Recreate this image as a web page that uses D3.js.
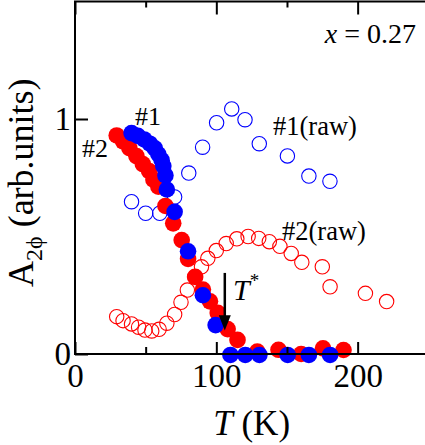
<!DOCTYPE html>
<html><head><meta charset="utf-8">
<script src="https://cdn.jsdelivr.net/npm/d3@7"></script>
<style>
html,body{margin:0;padding:0;background:#fff;overflow:hidden;}
svg{display:block;font-family:"Liberation Serif","Times New Roman","DejaVu Serif",serif;}
</style></head>
<body>
<svg id="c" width="425" height="445"></svg>
<script>
// #1 (blue, filled)
const T1 = [40, 44.5, 49, 53, 56.5, 59, 61.3, 62.5, 64, 65, 70.5, 80, 90.5, 99.5, 110, 120.5, 130.5, 150.5, 165.5, 180.5];
const A1 = [0.94, 0.928, 0.913, 0.895, 0.875, 0.85, 0.825, 0.8, 0.76, 0.7, 0.605, 0.437, 0.25, 0.123, -0.004, -0.004, -0.004, -0.004, -0.004, -0.004];
// #2 (red, filled)
const T2 = [29.5, 34, 38.5, 43.5, 48, 52.5, 55.5, 59, 64, 69.5, 75.5, 80, 85, 90.5, 95.5, 101, 108, 115, 129, 144, 160, 175.5, 190];
const A2 = [0.93, 0.905, 0.876, 0.842, 0.808, 0.778, 0.742, 0.712, 0.63, 0.556, 0.485, 0.405, 0.328, 0.274, 0.224, 0.175, 0.106, 0.06, 0.01, 0.018, 0.0, 0.024, 0.017];
// #1(raw) (blue, open)
const T1raw = [40, 50, 60, 70.5, 80.5, 90.3, 100.2, 110.9, 120.3, 130.4, 150.3, 165.5, 180.4];
const A1raw = [0.648, 0.599, 0.599, 0.668, 0.77, 0.88, 0.984, 1.043, 0.997, 0.895, 0.843, 0.757, 0.735];
// #2(raw) (red, open)
const T2raw = [29.5, 34, 40, 45, 49.5, 54.3, 59.5, 65, 70.5, 75, 79.5, 85, 89.5, 94, 100, 107, 114.5, 122.5, 130, 137.5, 145, 153, 160.5, 175, 180.5, 205.5, 220.5];
const A2raw = [0.159, 0.142, 0.128, 0.114, 0.102, 0.098, 0.105, 0.131, 0.168, 0.22, 0.272, 0.329, 0.371, 0.407, 0.44, 0.47, 0.49, 0.5, 0.492, 0.478, 0.458, 0.428, 0.39, 0.371, 0.286, 0.258, 0.223];

const xMajor = [0, 100, 200];
const xMinor = [50, 150];
const yMajor = [0, 1];
const tStar = 106;

const svg = d3.select("#c");
const L = 75, R = 428.3, TOP = 1.5, B = 354;
const x = d3.scaleLinear().domain([0, 250]).range([L, R]);
const y = d3.scaleLinear().domain([0, 1.5]).range([B, TOP]);

const red = "#ff0000", blue = "#0000ff";
const ff = '"Liberation Serif","Times New Roman","DejaVu Serif",serif';

// open (raw) circles
function openPts(T, A, col) {
  svg.append("g").selectAll("circle").data(T.map((t, i) => [t, A[i]])).join("circle")
    .attr("cx", d => x(d[0])).attr("cy", d => y(d[1])).attr("r", 7.2)
    .attr("fill", "none").attr("stroke", col).attr("stroke-width", 1.1);
}
openPts(T2raw, A2raw, red);
openPts(T1raw, A1raw, blue);
function fillPts(T, A, col) {
  svg.append("g").selectAll("circle").data(T.map((t, i) => [t, A[i]])).join("circle")
    .attr("cx", d => x(d[0])).attr("cy", d => y(d[1])).attr("r", 8.3)
    .attr("fill", col);
}
fillPts(T2, A2, red);
fillPts(T1, A1, blue);

// axes
const fs = 33;
const gB = svg.append("g").attr("transform", `translate(0,${B})`)
  .call(d3.axisBottom(x).tickValues(xMajor).tickSizeInner(-12).tickSizeOuter(0).tickPadding(10).tickFormat(d3.format("d")));
const gBm = svg.append("g").attr("transform", `translate(0,${B})`)
  .call(d3.axisBottom(x).tickValues(xMinor).tickSizeInner(-7).tickSizeOuter(0).tickFormat(""));
const gT = svg.append("g").attr("transform", `translate(0,${TOP})`)
  .call(d3.axisTop(x).tickValues(xMajor).tickSizeInner(-13).tickSizeOuter(0).tickFormat(""));
const gTm = svg.append("g").attr("transform", `translate(0,${TOP})`)
  .call(d3.axisTop(x).tickValues(xMinor).tickSizeInner(-6).tickSizeOuter(0).tickFormat(""));
const gL = svg.append("g").attr("transform", `translate(${L},0)`)
  .call(d3.axisLeft(y).tickValues(yMajor).tickSizeInner(-13).tickSizeOuter(0).tickPadding(4).tickFormat(d3.format("d")));
[gB, gBm, gT, gTm, gL].forEach(g => {
  g.select(".domain").remove();
  g.selectAll(".tick line").attr("stroke", "#000").attr("stroke-width", 2);
  g.selectAll(".tick text").attr("fill", "#000").attr("font-size", fs).attr("font-family", ff);
});

// frame
svg.append("path").attr("d", `M${R},${TOP}H${L}V${B}H${R}`).attr("fill", "none").attr("stroke", "#000").attr("stroke-width", 2);

// T* arrow
const ax = x(tStar);
svg.append("line").attr("x1", ax).attr("x2", ax).attr("y1", y(0.345)).attr("y2", y(0.14))
  .attr("stroke", "#000").attr("stroke-width", 2.5);
svg.append("path").attr("d", `M${ax - 6},${y(0.165)}L${ax + 6},${y(0.165)}L${ax},${y(0.1)}Z`).attr("fill", "#000");

function txt(xp, yp, size) {
  return svg.append("text").attr("x", xp).attr("y", yp).attr("font-size", size).attr("font-family", ff).attr("fill", "#000");
}
const tT = txt(233, 300, 30);
tT.append("tspan").attr("font-style", "italic").text("T");
tT.append("tspan").attr("font-size", 19).attr("dy", -13).text("*");

txt(135, 125, 26).text("#1");
txt(82, 157, 26).text("#2");
txt(273, 135, 26.5).text("#1(raw)");
txt(282, 240, 26.5).text("#2(raw)");

const tx = txt(416, 43, 28).attr("text-anchor", "end");
tx.append("tspan").attr("font-style", "italic").text("x");
tx.append("tspan").text(" = 0.27");

// x label
const xl = txt((L + R) / 2, 435, 35).attr("text-anchor", "middle");
xl.append("tspan").attr("font-style", "italic").text("T");
xl.append("tspan").text(" (K)");

// y label
const yl = svg.append("text").attr("transform", "translate(33,287) rotate(-90)")
  .attr("font-size", 36).attr("font-family", ff).attr("fill", "#000");
yl.append("tspan").text("A");
yl.append("tspan").attr("font-size", 24).attr("dy", 9).text("2ϕ");
yl.append("tspan").attr("dy", -9).text(" (arb.units)");
</script>
</body></html>
